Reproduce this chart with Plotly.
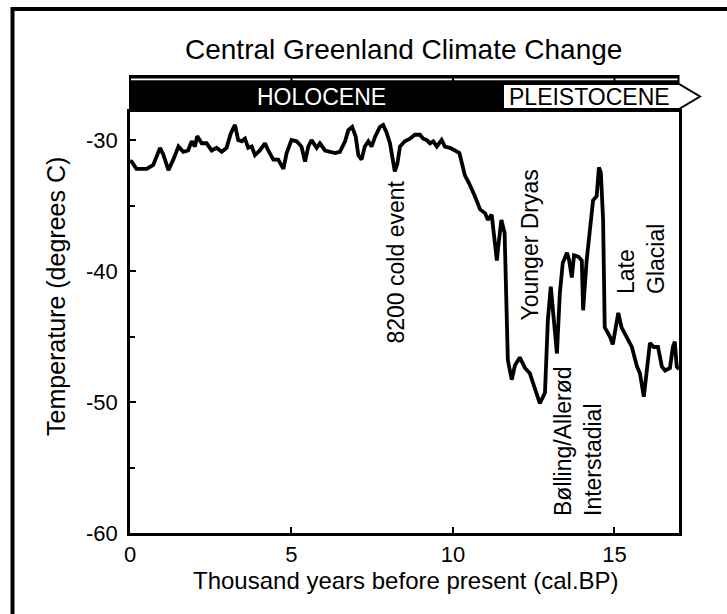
import plotly.graph_objects as go

# ---- data ----
age_kyr = [0.0, 0.05, 0.2, 0.52, 0.72, 0.93, 1.03, 1.19, 1.34, 1.5, 1.65, 1.8, 1.91, 2.01, 2.08, 2.22,
           2.37, 2.53, 2.68, 2.84, 2.99, 3.12, 3.25, 3.35, 3.46, 3.56, 3.66, 3.77, 3.87, 4.02, 4.18,
           4.28, 4.44, 4.59, 4.75, 4.85, 5.0, 5.16, 5.31, 5.42, 5.52, 5.62, 5.78, 5.88, 6.04, 6.19,
           6.35, 6.5, 6.66, 6.76, 6.88, 6.99, 7.07, 7.17, 7.27, 7.38, 7.48, 7.59, 7.74, 7.84, 7.94,
           8.05, 8.15, 8.2, 8.28, 8.36, 8.51, 8.67, 8.82, 8.98, 9.08, 9.18, 9.29, 9.39, 9.5, 9.65,
           9.75, 9.91, 10.06, 10.2, 10.37, 10.5, 10.68, 10.84, 11.0, 11.08, 11.2, 11.36, 11.4, 11.5,
           11.6, 11.7, 11.82, 11.92, 12.07, 12.23, 12.38, 12.54, 12.69, 12.85, 12.94, 13.03, 13.13,
           13.22, 13.31, 13.4, 13.53, 13.6, 13.68, 13.75, 13.88, 13.99, 14.03, 14.14, 14.24, 14.34,
           14.45, 14.52, 14.58, 14.65, 14.7, 14.86, 14.95, 15.02, 15.12, 15.22, 15.38, 15.54, 15.7,
           15.79, 15.91, 16.0, 16.1, 16.22, 16.35, 16.47, 16.57, 16.72, 16.81, 16.87, 16.93, 17.0]
temp_c = [-31.6, -31.65, -32.2, -32.2, -31.9, -30.6, -31.1, -32.3, -31.5, -30.5, -30.9, -30.8, -30.1,
          -30.5, -29.7, -30.25, -30.25, -30.8, -30.6, -30.9, -30.6, -29.5, -28.85, -30.0, -30.1,
          -29.9, -30.6, -30.5, -31.15, -30.8, -30.25, -30.8, -31.5, -31.5, -32.2, -31.0, -30.0,
          -30.1, -30.5, -31.65, -30.5, -30.0, -30.6, -30.25, -30.8, -30.9, -31.0, -30.9, -30.1,
          -29.25, -29.0, -29.75, -31.15, -31.5, -30.5, -30.1, -30.5, -29.75, -29.0, -28.85, -29.4,
          -30.25, -32.0, -32.4, -31.8, -30.5, -30.1, -29.9, -29.6, -29.6, -29.9, -30.0, -30.25,
          -30.1, -30.5, -30.0, -30.5, -30.6, -30.8, -31.0, -32.7, -33.3, -34.3, -35.3, -35.6,
          -36.1, -35.7, -39.2, -38.2, -36.1, -37.1, -46.8, -48.3, -47.2, -46.6, -47.4, -47.8,
          -48.9, -50.1, -49.3, -43.7, -41.2, -43.7, -46.3, -41.7, -39.4, -38.6, -39.2, -40.5,
          -38.8, -38.9, -39.2, -43.0, -39.2, -36.9, -34.6, -34.3, -32.1, -32.5, -36.1, -44.3,
          -45.0, -45.6, -44.7, -43.2, -44.3, -45.0, -45.8, -47.3, -47.8, -49.6, -47.8, -45.5,
          -45.8, -45.8, -47.3, -47.6, -47.4, -45.8, -45.4, -47.3, -47.5]

x_ticks = [0, 5, 10, 15]
y_ticks = [-30, -40, -50, -60]

title_text = "Central Greenland Climate Change"
x_title = "Thousand years before present (cal.BP)"
y_title = "Temperature (degrees C)"
epoch_labels = ["HOLOCENE", "PLEISTOCENE"]
event_labels = ["8200 cold event", "Younger Dryas", "Bølling/Allerød<br>Interstadial", "Late<br>Glacial"]

# ---- layout geometry (pixels) ----
W, H = 727, 614
L, R, T, B = 130, 679, 112, 533
FONT = "Liberation Sans, Arial, sans-serif"


def px(xp):
    return (xp - L) / (R - L)


def py(yp):
    return (B - yp) / (B - T)


fig = go.Figure()
fig.add_trace(go.Scatter(x=age_kyr, y=temp_c, mode="lines",
                         line=dict(color="black", width=3.8), hoverinfo="skip", showlegend=False))

shapes = []
# outer frame
shapes.append(dict(type="rect", xref="paper", yref="paper", x0=px(12.5), x1=px(760), y0=py(640), y1=py(9),
                   line=dict(color="black", width=4), fillcolor="rgba(0,0,0,0)", layer="above"))
# epoch band (black)
shapes.append(dict(type="rect", xref="paper", yref="paper", x0=px(129), x1=px(679.5), y0=py(112), y1=py(75),
                   line=dict(width=0), fillcolor="black", layer="above"))
# thin white line inside top of band, broken at ticks
seg_edges = [131, 290.5, 292.5, 452, 454, 613.5, 615.5, 677.5]
for i in range(0, len(seg_edges), 2):
    shapes.append(dict(type="line", xref="paper", yref="paper", x0=px(seg_edges[i]), x1=px(seg_edges[i + 1]),
                       y0=py(79.3), y1=py(79.3), line=dict(color="white", width=1.8), layer="above"))
# Pleistocene arrow box
x_a, x_b, x_tip = px(503), px(679), px(700)
y_t, y_m, y_b = py(84), py(96.5), py(109)
shapes.append(dict(type="path", xref="paper", yref="paper",
                   path=f"M {x_a},{y_t} L {x_b},{y_t} L {x_tip},{y_m} L {x_b},{y_b} L {x_a},{y_b} Z",
                   fillcolor="white", line=dict(color="black", width=2), layer="above"))

annotations = [
    dict(text=title_text, x=px(403), y=py(50), xref="paper", yref="paper", showarrow=False,
         font=dict(size=28, color="black", family=FONT), xanchor="center", yanchor="middle"),
    dict(text=epoch_labels[0], x=px(321), y=py(97), xref="paper", yref="paper", showarrow=False,
         font=dict(size=23, color="white", family=FONT), xanchor="center", yanchor="middle"),
    dict(text=epoch_labels[1], x=px(589), y=py(97), xref="paper", yref="paper", showarrow=False,
         font=dict(size=23, color="black", family=FONT), xanchor="center", yanchor="middle"),
    dict(text=x_title, x=px(406), y=py(580), xref="paper", yref="paper", showarrow=False,
         font=dict(size=24, color="black", family=FONT), xanchor="center", yanchor="middle"),
    dict(text=y_title, x=px(56), y=py(297), xref="paper", yref="paper", showarrow=False, textangle=-90,
         font=dict(size=25, color="black", family=FONT), xanchor="center", yanchor="middle"),
    dict(text=event_labels[0], x=px(395), y=py(346), xref="paper", yref="paper", showarrow=False, textangle=-90,
         font=dict(size=23, color="black", family=FONT), xanchor="center", yanchor="bottom"),
    dict(text=event_labels[1], x=px(529), y=py(323), xref="paper", yref="paper", showarrow=False, textangle=-90,
         font=dict(size=23, color="black", family=FONT), xanchor="center", yanchor="bottom"),
    dict(text=event_labels[2], x=px(578), y=py(518), xref="paper", yref="paper", showarrow=False, textangle=-90,
         align="left", font=dict(size=23, color="black", family=FONT), xanchor="center", yanchor="bottom"),
    dict(text=event_labels[3], x=px(641), y=py(296), xref="paper", yref="paper", showarrow=False, textangle=-90,
         align="left", font=dict(size=23, color="black", family=FONT), xanchor="center", yanchor="bottom"),
]

y_top = -30 + (140 - T) / ((B - 140) / 30.0)

fig.update_layout(
    width=W, height=H, autosize=False,
    margin=dict(l=L, r=W - R, t=T, b=H - B, pad=0),
    paper_bgcolor="white", plot_bgcolor="white",
    font=dict(family=FONT, color="black", size=22),
    shapes=shapes, annotations=annotations, showlegend=False,
    xaxis=dict(range=[0, 17], tickvals=x_ticks, ticktext=[str(v) for v in x_ticks],
               ticks="inside", ticklen=6, tickwidth=2, tickcolor="black",
               showline=True, linecolor="black", linewidth=2.5, mirror=True,
               showgrid=False, zeroline=False, tickfont=dict(size=22, family=FONT, color="black"),
               ticklabelstandoff=0),
    yaxis=dict(range=[-60, y_top], tickvals=y_ticks, ticktext=[str(v) for v in y_ticks],
               ticks="inside", ticklen=6, tickwidth=2, tickcolor="black",
               minor=dict(tickvals=[-35, -45, -55], ticks="inside", ticklen=5, tickwidth=1.5, tickcolor="black"),
               showline=True, linecolor="black", linewidth=2.5, mirror=True,
               showgrid=False, zeroline=False, tickfont=dict(size=22, family=FONT, color="black"),
               ticklabelstandoff=5),
)

fig.write_html("out.html")
